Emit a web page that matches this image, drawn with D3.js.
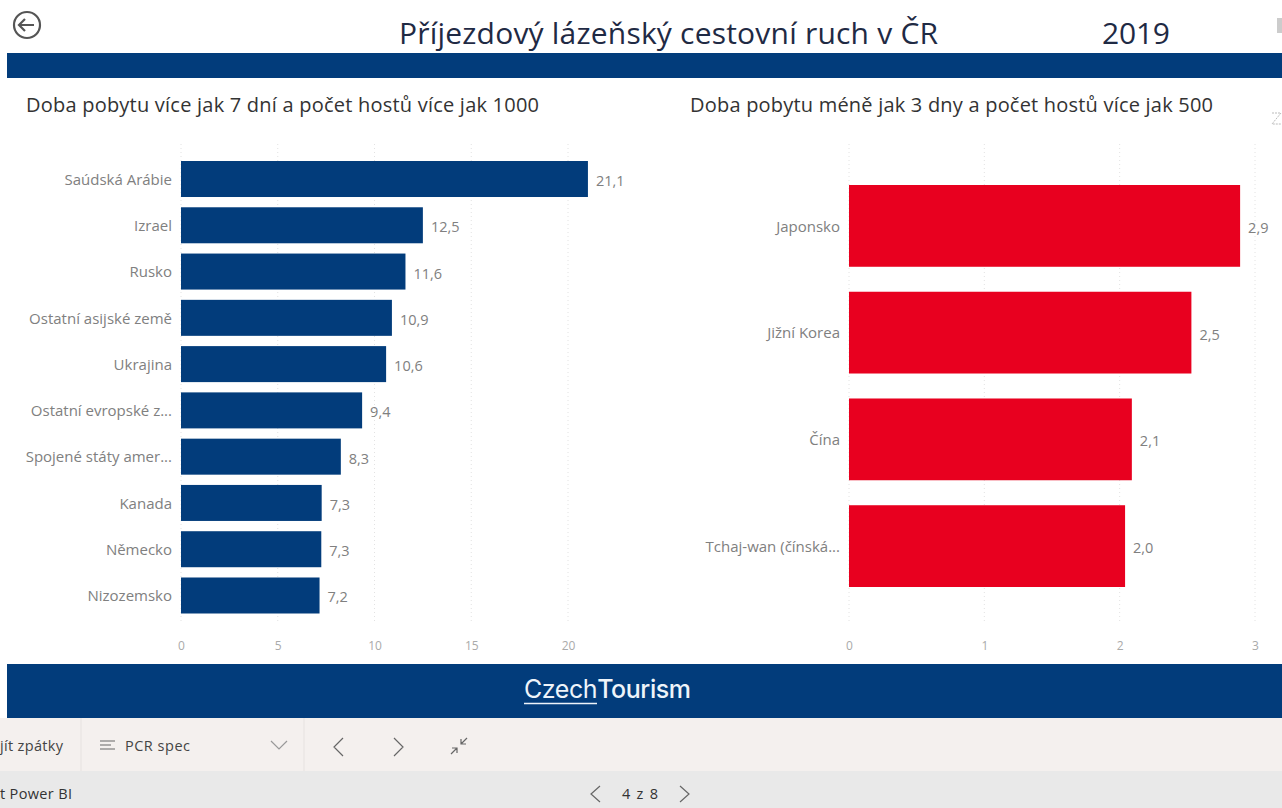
<!DOCTYPE html>
<html>
<head>
<meta charset="utf-8">
<script src="https://cdn.jsdelivr.net/npm/d3@7"></script>
<style>
  html, body { margin: 0; padding: 0; background: #fff; overflow: hidden; }
  text { font-family: "Open Sans", "Noto Sans", sans-serif; }
  .axis path, .axis line { display: none; }
  .cat text { fill: #808080; font-size: 15px; }
  .val text { fill: #aaa; font-size: 12px; }
  .grid line { stroke: #e2e2e2; stroke-dasharray: 1 3; }
  .lbl { fill: #808080; font-size: 14.5px; }
  .sub { fill: #333; font-size: 20px; }
</style>
</head>
<body>
<div id="chart"></div>
<script>
var leftCategories = ["Saúdská Arábie", "Izrael", "Rusko", "Ostatní asijské země", "Ukrajina",
  "Ostatní evropské z...", "Spojené státy amer...", "Kanada", "Německo", "Nizozemsko"];
var leftValues = [21.03, 12.5, 11.6, 10.9, 10.6, 9.36, 8.26, 7.27, 7.25, 7.16];
var leftTicks = [0, 5, 10, 15, 20];

var rightCategories = ["Japonsko", "Jižní Korea", "Čína", "Tchaj-wan (čínská..."];
var rightValues = [2.89, 2.53, 2.09, 2.04];
var rightTicks = [0, 1, 2, 3];

var leftLabels = ["21,1", "12,5", "11,6", "10,9", "10,6", "9,4", "8,3", "7,3", "7,3", "7,2"];
var rightLabels = ["2,9", "2,5", "2,1", "2,0"];

var navy = "#023c7b";
var red = "#e8001f";

var svg = d3.select("#chart").append("svg")
  .attr("width", 1282)
  .attr("height", 808);

// report chrome
svg.append("rect").attr("x", 7).attr("y", 53).attr("width", 1275).attr("height", 25).attr("fill", navy);
svg.append("rect").attr("x", 7).attr("y", 664).attr("width", 1275).attr("height", 54).attr("fill", navy);
svg.append("rect").attr("x", 0).attr("y", 718).attr("width", 1282).attr("height", 53).attr("fill", "#f4f0ee");
svg.append("rect").attr("x", 0).attr("y", 771).attr("width", 1282).attr("height", 37).attr("fill", "#e9e9e9");
svg.append("line").attr("x1", 81).attr("x2", 81).attr("y1", 718).attr("y2", 771).attr("stroke", "#e6e2e0");
svg.append("line").attr("x1", 304).attr("x2", 304).attr("y1", 718).attr("y2", 771).attr("stroke", "#e6e2e0");
svg.append("rect").attr("x", 1277).attr("y", 18).attr("width", 5).attr("height", 15).attr("fill", "#ccc");

// back button
var back = svg.append("g").attr("fill", "none").attr("stroke", "#555").attr("stroke-width", 2.2);
back.append("circle").attr("cx", 27).attr("cy", 25).attr("r", 13);
back.append("path").attr("d", "M34 25H19M25 19l-6 6 6 6");

svg.append("text").attr("x", 399).attr("y", 44)
  .attr("fill", "#1f2a44").style("font-size", "30px").attr("textLength", 539)
  .text("Příjezdový lázeňský cestovní ruch v ČR");
svg.append("text").attr("x", 1102).attr("y", 44)
  .attr("fill", "#1f2a44").style("font-size", "30px").attr("textLength", 68)
  .text("2019");

function drawBars(cfg) {
  var x = d3.scaleLinear().domain(cfg.domain).range(cfg.xRange);
  var y = d3.scaleBand().domain(cfg.categories).range(cfg.yRange)
    .paddingInner(cfg.padding).paddingOuter(0);

  svg.append("text").attr("class", "sub").attr("x", cfg.titleX).attr("y", 112)
    .attr("textLength", cfg.titleLen)
    .text(cfg.title);

  // dotted vertical gridlines
  svg.append("g").attr("class", "grid")
    .selectAll("line")
    .data(cfg.ticks)
    .enter()
    .append("line")
    .attr("x1", d => x(d))
    .attr("x2", d => x(d))
    .attr("y1", 144)
    .attr("y2", 622);

  svg.selectAll(null)
    .data(cfg.values)
    .enter()
    .append("rect")
    .attr("x", x(0))
    .attr("y", (d, i) => y(cfg.categories[i]))
    .attr("width", d => x(d) - x(0))
    .attr("height", y.bandwidth())
    .attr("fill", cfg.color);

  svg.selectAll(null)
    .data(cfg.values)
    .enter()
    .append("text")
    .attr("class", "lbl")
    .attr("x", d => x(d) + 8)
    .attr("y", (d, i) => y(cfg.categories[i]) + y.bandwidth() / 2 + 7)
    .text((d, i) => cfg.labels[i]);

  svg.append("g").attr("class", "axis cat")
    .attr("transform", `translate(${x(0)}, 1)`)
    .call(d3.axisLeft(y).tickSize(0).tickPadding(9));

  svg.append("g").attr("class", "axis val")
    .attr("transform", "translate(0, 638)")
    .call(d3.axisBottom(x).tickValues(cfg.ticks).tickSize(0).tickPadding(3).tickFormat(d3.format("d")));
}

drawBars({
  categories: leftCategories, values: leftValues, labels: leftLabels, ticks: leftTicks,
  domain: [0, 20], xRange: [181, 568], yRange: [161, 613.5], padding: 0.222,
  color: navy, title: "Doba pobytu více jak 7 dní a počet hostů více jak 1000", titleX: 26, titleLen: 513
});

drawBars({
  categories: rightCategories, values: rightValues, labels: rightLabels, ticks: rightTicks,
  domain: [0, 3], xRange: [849, 1255], yRange: [185, 587], padding: 0.234,
  color: red, title: "Doba pobytu méně jak 3 dny a počet hostů více jak 500", titleX: 690, titleLen: 523
});

// logo
var logo = svg.append("text").attr("x", 524).attr("y", 698)
  .attr("fill", "#eef4fa").style("font-family", "Inter").style("font-size", "25px").attr("textLength", 167);
logo.append("tspan").text("Czech");
logo.append("tspan").style("font-weight", "500").text("Tourism");
svg.append("line").attr("x1", 524).attr("x2", 597).attr("y1", 703.5).attr("y2", 703.5)
  .attr("stroke", "#eef4fa").attr("stroke-width", 1.5);

// toolbar
var bar = svg.append("g").attr("fill", "#444").style("font-size", "14.5px");
bar.append("text").attr("x", 0).attr("y", 751).attr("textLength", 63).text("jít zpátky");
bar.append("text").attr("x", 125).attr("y", 751).attr("textLength", 65).text("PCR spec");
bar.append("text").attr("x", 0).attr("y", 799).attr("fill", "#333").attr("textLength", 72).text("t Power BI");
bar.append("text").attr("x", 622).attr("y", 799).attr("fill", "#333").attr("textLength", 36).text("4 z 8");

svg.append("path")
  .attr("d", "M100 741h15M100 745h11M100 749h15"
    + "M343 738l-9 9 9 9M394 738l9 9-9 9"
    + "M451 754l6-6M452 748h5v5M467 738l-6 6M461 739v5h5"
    + "M600 786l-9 8 9 8M680 786l9 8-9 8")
  .attr("fill", "none").attr("stroke", "#666").attr("stroke-width", 1.2);
svg.append("path").attr("d", "M271 741l8 8 8-8")
  .attr("fill", "none").attr("stroke", "#999").attr("stroke-width", 1.2);

// focus icon by the right chart
svg.append("path")
  .attr("d", "M1272 113h9l-9 11h9")
  .attr("fill", "none").attr("stroke", "#bbb").attr("stroke-dasharray", "2 1");
</script>
</body>
</html>
